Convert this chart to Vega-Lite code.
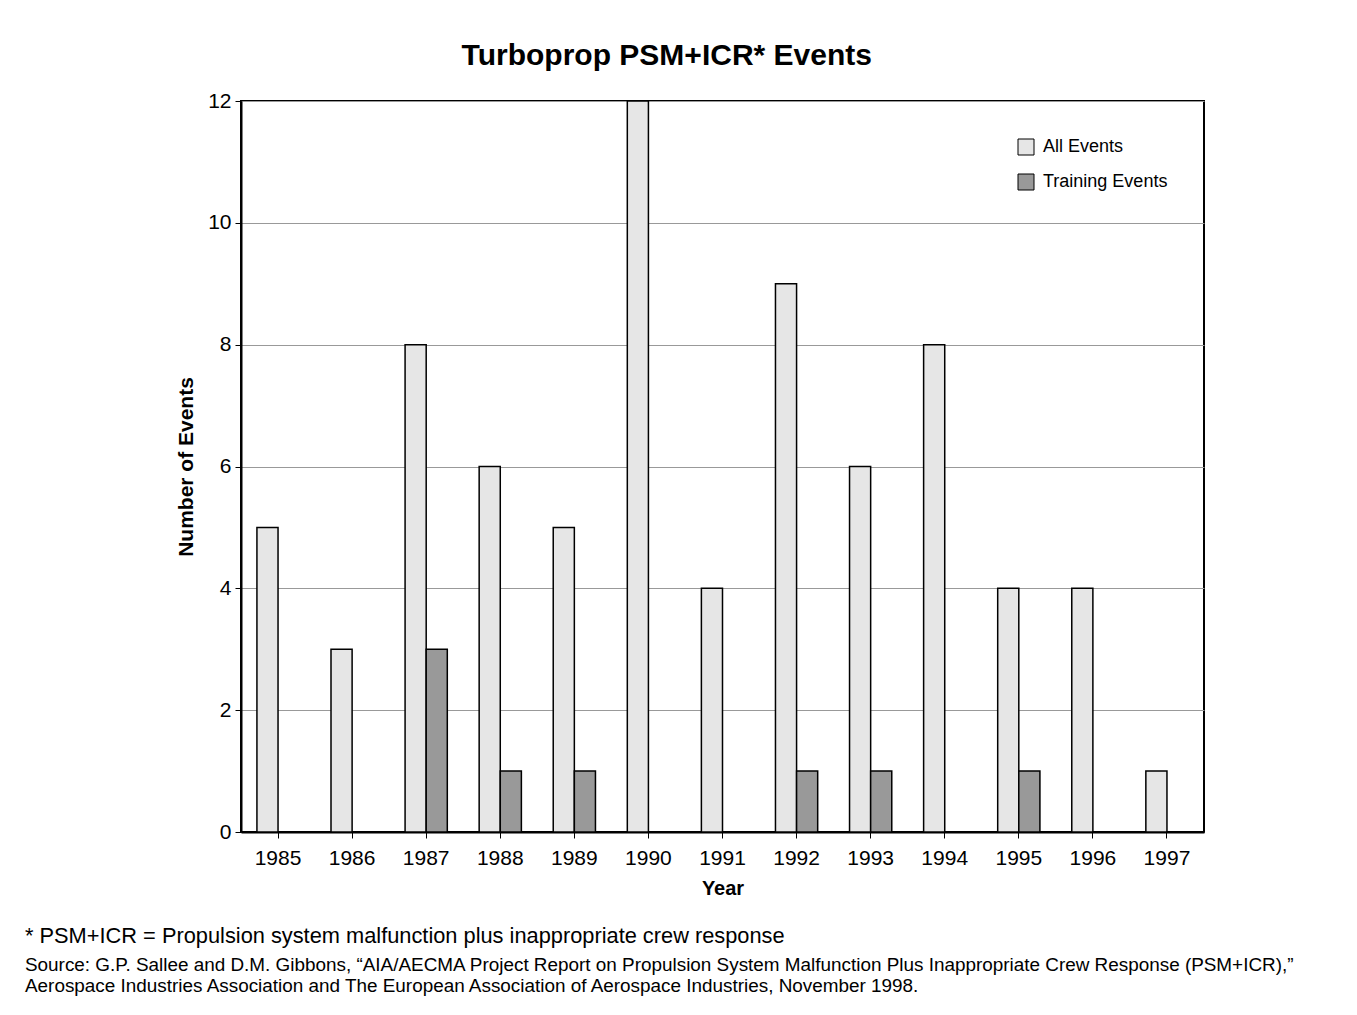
{
  "$schema": "https://vega.github.io/schema/vega-lite/v6.json",
  "padding": {"left": 24, "top": 41, "right": 10, "bottom": 10},
  "background": "white",
  "title": {"text": "Turboprop PSM+ICR* Events", "font": "Liberation Sans", "fontSize": 30, "fontWeight": "bold", "color": "black", "anchor": "middle", "offset": 18, "dx": 7},
  "data": {"values": [
    {"year": "1985", "series": "All Events", "events": 5},
    {"year": "1985", "series": "Training Events", "events": 0},
    {"year": "1986", "series": "All Events", "events": 3},
    {"year": "1986", "series": "Training Events", "events": 0},
    {"year": "1987", "series": "All Events", "events": 8},
    {"year": "1987", "series": "Training Events", "events": 3},
    {"year": "1988", "series": "All Events", "events": 6},
    {"year": "1988", "series": "Training Events", "events": 1},
    {"year": "1989", "series": "All Events", "events": 5},
    {"year": "1989", "series": "Training Events", "events": 1},
    {"year": "1990", "series": "All Events", "events": 12},
    {"year": "1990", "series": "Training Events", "events": 0},
    {"year": "1991", "series": "All Events", "events": 4},
    {"year": "1991", "series": "Training Events", "events": 0},
    {"year": "1992", "series": "All Events", "events": 9},
    {"year": "1992", "series": "Training Events", "events": 1},
    {"year": "1993", "series": "All Events", "events": 6},
    {"year": "1993", "series": "Training Events", "events": 1},
    {"year": "1994", "series": "All Events", "events": 8},
    {"year": "1994", "series": "Training Events", "events": 0},
    {"year": "1995", "series": "All Events", "events": 4},
    {"year": "1995", "series": "Training Events", "events": 1},
    {"year": "1996", "series": "All Events", "events": 4},
    {"year": "1996", "series": "Training Events", "events": 0},
    {"year": "1997", "series": "All Events", "events": 1},
    {"year": "1997", "series": "Training Events", "events": 0}
  ]},
  "vconcat": [
    {
      "width": 963,
      "height": 731,
      "title": {
        "text": "* PSM+ICR = Propulsion system malfunction plus inappropriate crew response",
        "subtitle": [
          "Source: G.P. Sallee and D.M. Gibbons, “AIA/AECMA Project Report on Propulsion System Malfunction Plus Inappropriate Crew Response (PSM+ICR),”",
          "Aerospace Industries Association and The European Association of Aerospace Industries, November 1998."
        ],
        "orient": "bottom",
        "anchor": "start",
        "frame": "group",
        "dx": -216,
        "offset": 28,
        "font": "Liberation Sans",
        "fontSize": 21.8,
        "fontWeight": "normal",
        "color": "black",
        "subtitleFont": "Liberation Sans",
        "subtitleFontSize": 18.9,
        "subtitleColor": "black",
        "subtitleLineHeight": 21,
        "subtitlePadding": 8
      },
      "mark": {"type": "bar", "stroke": "black", "strokeWidth": 1.5},
      "encoding": {
        "x": {
          "field": "year", "type": "nominal", "title": "Year",
          "scale": {"paddingInner": 0.43, "paddingOuter": 0.215},
          "axis": {"labelAngle": 0, "labelFontSize": 21, "labelFont": "Liberation Sans", "labelColor": "black", "labelPadding": 9,
                   "titleFont": "Liberation Sans", "titleFontSize": 20, "titleFontWeight": "bold", "titleColor": "black", "titlePadding": 10,
                   "domainColor": "black", "domainWidth": 2, "tickColor": "black", "tickSize": 6, "tickWidth": 1}
        },
        "xOffset": {"field": "series", "type": "nominal", "sort": ["All Events", "Training Events"]},
        "y": {
          "field": "events", "type": "quantitative", "title": "Number of Events",
          "scale": {"domain": [0, 12], "nice": false},
          "axis": {"values": [0, 2, 4, 6, 8, 10, 12], "labelFontSize": 21, "labelFont": "Liberation Sans", "labelColor": "black", "labelPadding": 4,
                   "titleFont": "Liberation Sans", "titleFontSize": 21, "titleFontWeight": "bold", "titleColor": "black", "titlePadding": 11,
                   "domainColor": "black", "domainWidth": 2, "tickColor": "black", "tickSize": 6, "tickWidth": 1,
                   "grid": true, "gridColor": "#999999", "gridWidth": 1}
        },
        "fill": {
          "field": "series", "type": "nominal",
          "scale": {"domain": ["All Events", "Training Events"], "range": ["#e6e6e6", "#999999"]},
          "legend": {"title": null, "orient": "none", "legendX": 776, "legendY": 37, "symbolType": "square", "symbolSize": 256,
                     "symbolStrokeColor": "black", "symbolStrokeWidth": 1, "labelFont": "Liberation Sans", "labelFontSize": 18,
                     "labelColor": "black", "labelOffset": 8, "rowPadding": 15}
        }
      }
    }
  ],
  "config": {
    "view": {"stroke": "black", "strokeWidth": 2},
    "axisX": {"grid": false}
  }
}
